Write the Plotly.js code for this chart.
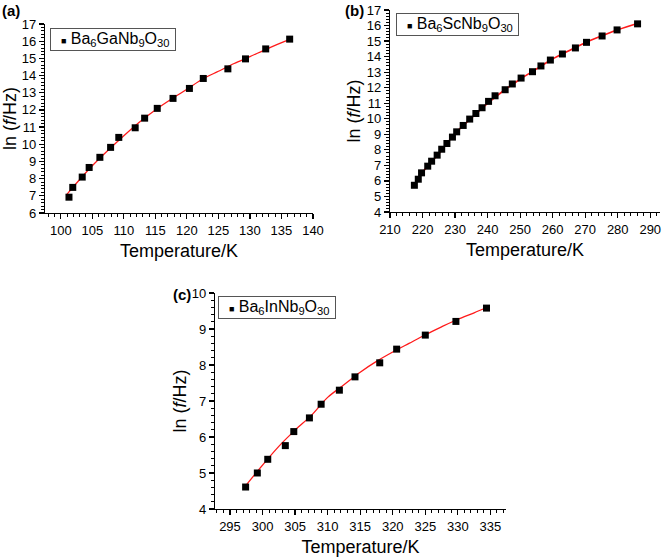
<!DOCTYPE html>
<html>
<head>
<meta charset="utf-8">
<script src="https://cdn.plot.ly/plotly-3.0.1.min.js"></script>
<style>
  html, body { margin: 0; padding: 0; background: #fff; }
  #chart { width: 662px; height: 557px; }
</style>
</head>
<body>
<div id="chart"></div>
<script>
// (a) Ba6GaNb9O30
const tempA = [101.3, 101.9, 103.4, 104.5, 106.2, 107.9, 109.2, 111.8, 113.3, 115.3, 117.8, 120.4, 122.6, 126.5, 129.3, 132.5, 136.3];
const lnfA = [6.92, 7.49, 8.09, 8.65, 9.24, 9.82, 10.40, 10.96, 11.52, 12.09, 12.67, 13.25, 13.83, 14.39, 14.97, 15.55, 16.12];
const fitTempA = [101.0, 103, 105, 107.5, 110, 112.5, 115, 117.5, 120, 122.5, 125, 127.5, 130, 133, 136.3];
const fitLnfA = [7.1, 7.95, 8.75, 9.65, 10.5, 11.3, 12.0, 12.62, 13.2, 13.8, 14.25, 14.7, 15.1, 15.6, 16.1];

// (b) Ba6ScNb9O30
const tempB = [217.5, 218.7, 219.7, 221.6, 222.8, 224.5, 225.9, 227.5, 229.2, 230.5, 232.5, 234.5, 236.4, 238.3, 240.3, 242.3, 245.4, 247.6, 250.3, 253.8, 256.4, 259.3, 263.0, 267.0, 270.4, 275.2, 279.8, 286.1];
const lnfB = [5.72, 6.11, 6.52, 6.95, 7.27, 7.66, 8.04, 8.41, 8.82, 9.16, 9.57, 9.98, 10.34, 10.71, 11.12, 11.48, 11.87, 12.24, 12.62, 13.03, 13.40, 13.78, 14.17, 14.56, 14.92, 15.33, 15.72, 16.11];
const fitTempB = [217.5, 220, 225, 230, 235, 240, 245, 250, 255, 260, 265, 270, 275, 280, 287];
const fitLnfB = [5.65, 6.55, 7.75, 9.05, 10.05, 11.0, 11.82, 12.55, 13.2, 13.85, 14.38, 14.9, 15.33, 15.73, 16.2];

// (c) Ba6InNb9O30
const tempC = [297.4, 299.2, 300.8, 303.5, 304.8, 307.2, 309.0, 311.8, 314.2, 318.0, 320.6, 325.0, 329.7, 334.4];
const lnfC = [4.61, 5.00, 5.38, 5.76, 6.15, 6.53, 6.91, 7.30, 7.67, 8.06, 8.44, 8.83, 9.21, 9.58];
const fitTempC = [297.2, 300, 302.5, 305, 307.5, 310, 312.5, 315, 317.5, 320, 322.5, 325, 327.5, 330, 332.5, 334.6];
const fitLnfC = [4.6, 5.22, 5.74, 6.19, 6.6, 7.1, 7.45, 7.8, 8.1, 8.36, 8.6, 8.84, 9.06, 9.27, 9.45, 9.61];

const compounds = [
  "Ba<sub>6</sub>GaNb<sub>9</sub>O<sub>30</sub>",
  "Ba<sub>6</sub>ScNb<sub>9</sub>O<sub>30</sub>",
  "Ba<sub>6</sub>InNb<sub>9</sub>O<sub>30</sub>",
];

const FONT = "Liberation Sans, Arial, Helvetica, sans-serif";

function pointTrace(x, y, name, ax) {
  return {
    type: "scatter", mode: "markers", x, y, name, showlegend: false,
    xaxis: "x" + ax, yaxis: "y" + ax,
    marker: { symbol: "square", size: 7, color: "#000" },
    cliponaxis: false,
  };
}
function fitTrace(x, y, ax, width) {
  return {
    type: "scatter", mode: "lines", x, y, showlegend: false,
    xaxis: "x" + ax, yaxis: "y" + ax,
    line: { color: "#ff1a1a", width, shape: "spline", smoothing: 0.8 },
  };
}

const traces = [
  fitTrace(fitTempA, fitLnfA, "", 1.3),
  pointTrace(tempA, lnfA, compounds[0], ""),
  fitTrace(fitTempB, fitLnfB, "2", 1.7),
  pointTrace(tempB, lnfB, compounds[1], "2"),
  fitTrace(fitTempC, fitLnfC, "3", 1.3),
  pointTrace(tempC, lnfC, compounds[2], "3"),
];

function xAxis(domain, range, dtick, minor, anchor) {
  return {
    domain, range, dtick, anchor,
    showline: true, linecolor: "#000", linewidth: 1.2,
    ticks: "outside", ticklen: 5, tickwidth: 1.2, tickcolor: "#000",
    minor: { dtick: minor, ticks: "outside", ticklen: 3, tickcolor: "#000", tickwidth: 1 },
    showgrid: false, zeroline: false,
    tickfont: { family: FONT, size: 13, color: "#000" },
    title: { text: "Temperature/K", font: { family: FONT, size: 18, color: "#000" }, standoff: 7 },
  };
}
function yAxis(domain, range, anchor, standoff) {
  return {
    domain, range, dtick: 1, anchor,
    showline: true, linecolor: "#000", linewidth: 1.2,
    ticks: "outside", ticklen: 5, tickwidth: 1.2, tickcolor: "#000",
    minor: { dtick: 0.2, ticks: "outside", ticklen: 3, tickcolor: "#000", tickwidth: 1 },
    showgrid: false, zeroline: false,
    tickfont: { family: FONT, size: 13, color: "#000" },
    title: { text: "ln (<i>f</i>/Hz)", font: { family: FONT, size: 18, color: "#000" }, standoff },
  };
}
// legend boxes: square marker + compound name inside a thin frame
function legendBox(name, x, y) {
  return {
    text: "&nbsp;&nbsp;<span style=\"font-size:9px\">■</span>&nbsp;" + name + "&nbsp;",
    xref: "paper", yref: "paper", x, y, xanchor: "left", yanchor: "top",
    align: "left", borderpad: 1,
    bordercolor: "#555", borderwidth: 1, bgcolor: "#fff", showarrow: false,
    font: { family: FONT, size: 16, color: "#000" },
  };
}
function label(text, x, y) {
  return {
    text: "<b>" + text + "</b>", xref: "paper", yref: "paper", x, y,
    xanchor: "left", yanchor: "top", showarrow: false,
    font: { family: FONT, size: 15, color: "#000" },
  };
}

const layout = {
  width: 662, height: 557,
  margin: { l: 0, r: 0, t: 0, b: 0 },
  paper_bgcolor: "#fff", plot_bgcolor: "#fff",
  font: { family: FONT, color: "#000" },
  showlegend: false,
  xaxis: xAxis([0.068, 0.4728], [97.5, 140], 5, 1, "y"),
  yaxis: yAxis([0.6176, 0.9569], [6, 17], "x", 1),
  xaxis2: xAxis([0.5891, 0.997], [210, 293], 10, 2, "y2"),
  yaxis2: yAxis([0.6194, 0.982], [4, 17], "x2", 1),
  xaxis3: xAxis([0.3248, 0.7644], [292.7, 337.4], 5, 1, "y3"),
  yaxis3: yAxis([0.0862, 0.474], [4, 10], "x3", 0),
  annotations: [
    legendBox(compounds[0], 0.0755, 0.9497),
    legendBox(compounds[1], 0.598, 0.9767),
    legendBox(compounds[2], 0.3293, 0.4686),
    label("(a)", 0.0, 1.0),
    label("(b)", 0.518, 1.0),
    label("(c)", 0.258, 0.49),
  ],
};

Plotly.newPlot("chart", traces, layout, { staticPlot: true });
</script>
</body>
</html>
